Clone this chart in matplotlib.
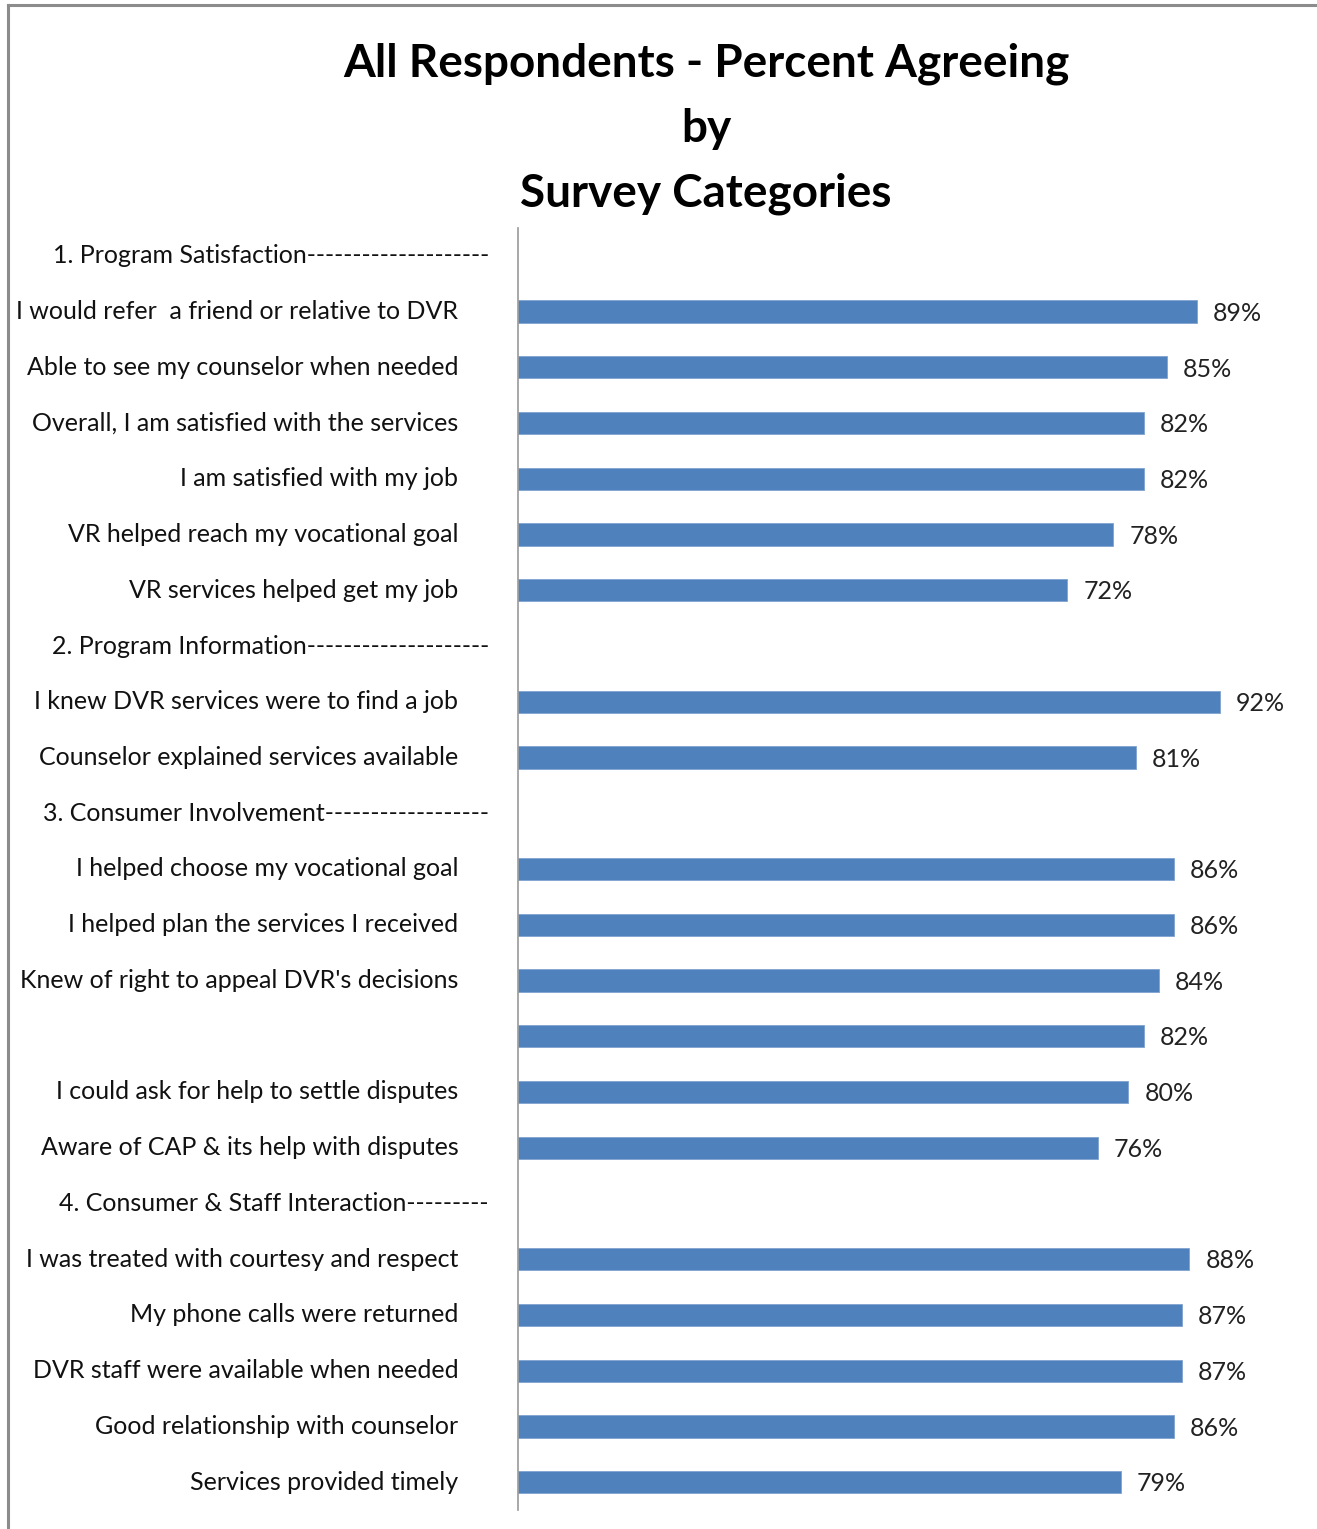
import numpy as np
import matplotlib.pyplot as plt
from matplotlib.lines import Line2D

# Survey items, top to bottom; None marks a section heading row (no bar)
labels = [
    "1. Program Satisfaction--------------------",
    "I would refer  a friend or relative to DVR",
    "Able to see my counselor when needed",
    "Overall, I am satisfied with the services",
    "I am satisfied with my job",
    "VR helped reach my vocational goal",
    "VR services helped get my job",
    "2. Program Information--------------------",
    "I knew DVR services were to find a job",
    "Counselor explained services available",
    "3. Consumer Involvement------------------",
    "I helped choose my vocational goal",
    "I helped plan the services I received",
    "Knew of right to appeal DVR's decisions",
    "",
    "I could ask for help to settle disputes",
    "Aware of CAP & its help with disputes",
    "4. Consumer & Staff Interaction---------",
    "I was treated with courtesy and respect",
    "My phone calls were returned",
    "DVR staff were available when needed",
    "Good relationship with counselor",
    "Services provided timely",
]
pct = [None, 89, 85, 82, 82, 78, 72,
       None, 92, 81,
       None, 86, 86, 84, 82, 80, 76,
       None, 88, 87, 87, 86, 79]

W, H = 1317, 1529
fig = plt.figure(figsize=(W / 100, H / 100), dpi=100)
plt.rcParams['font.family'] = ['Lato', 'DejaVu Sans']

ax = fig.add_axes([518 / W, 1 - 1510 / H, (1281 - 518) / W, (1510 - 228) / H])

n = len(labels)
y = np.arange(n)
bar_color = '#4F81BD'
for yi, v in zip(y, pct):
    if v is None:
        continue
    ax.barh(yi, v / 100, height=0.4, color=bar_color, edgecolor='#7FA3D0', linewidth=0.6)
    ax.text(v / 100 + 0.021, yi + 0.03, f"{v}%", va='center', ha='left', fontsize=18, color='#222222')

ax.set_xlim(0, 1)
ax.set_ylim(n - 0.5, -0.5)
ax.set_yticks(y)
ax.set_yticklabels(labels, fontsize=18, color='#111111', va='center')
ax.tick_params(axis='y', length=0)
for tick, v in zip(ax.yaxis.get_major_ticks(), pct):
    tick.set_pad(21 if v is None else 43)
ax.set_xticks([])
for side in ['top', 'right', 'bottom']:
    ax.spines[side].set_visible(False)
ax.spines['left'].set_color('#999999')
ax.spines['left'].set_linewidth(1.2)

title_lines = ["All Respondents - Percent Agreeing", "by", "Survey Categories"]
for i, t in enumerate(title_lines):
    fig.text(706 / W, 1 - (64 + 65 * i) / H, t, ha='center', va='center',
             fontsize=33, fontweight='bold', color='black')

# outer frame, left and top edges
frame_kw = dict(color='#8C8C8C', linewidth=2.2, transform=fig.transFigure)
fig.add_artist(Line2D([8 / W, 8 / W], [0, 1 - 5 / H], **frame_kw))
fig.add_artist(Line2D([8 / W, 1], [1 - 5 / H, 1 - 5 / H], **frame_kw))

fig.savefig('out.png', dpi=100, facecolor='white')
